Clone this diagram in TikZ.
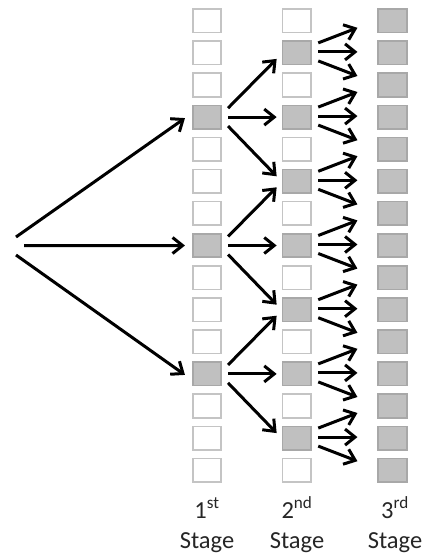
\documentclass[tikz,border=0pt]{standalone}
\usepackage{fontspec}
\setmainfont{Carlito}
\usetikzlibrary{arrows.meta}
\definecolor{boxgray}{HTML}{C0C0C0}
\definecolor{boxedge}{HTML}{A8A8A8}
\definecolor{whiteedge}{HTML}{C4C4C4}
\tikzset{
  cell/.style={draw=whiteedge, fill=white, line width=1.6pt, minimum width=28.5pt, minimum height=23.5pt, inner sep=0pt},
  graycell/.style={cell, draw=boxedge, fill=boxgray},
  arr/.style={line width=3pt, -{Straight Barb[length=10pt,width=16pt]}},
  lab/.style={font=\fontsize{24.5pt}{30pt}\selectfont, text=black!85, anchor=base, inner sep=0pt}
}
\begin{document}
\begin{tikzpicture}[x=1pt,y=-1pt]
\useasboundingbox (0,0) rectangle (427,554);
% columns
\foreach \i in {0,...,14}{
  \pgfmathsetmacro{\yy}{20.8+32.1*\i}
  \ifnum\i=3 \node[graycell] (c1-\i) at (207,\yy) {};
  \else\ifnum\i=7 \node[graycell] (c1-\i) at (207,\yy) {};
  \else\ifnum\i=11 \node[graycell] (c1-\i) at (207,\yy) {};
  \else \node[cell] (c1-\i) at (207,\yy) {};
  \fi\fi\fi
  \ifodd\i \node[graycell] (c2-\i) at (296.7,\yy) {};
  \else \node[cell] (c2-\i) at (296.7,\yy) {};
  \fi
  \node[graycell] (c3-\i) at (392.5,\yy) {};
}
% source points
\coordinate (s1) at (16,237);
\coordinate (s2) at (24,245.5);
\coordinate (s3) at (16,255);
\draw[arr] (s1) -- ([shift={(-7,1)}]c1-3.west);
\draw[arr] (s2) -- ([xshift=-7pt]c1-7.west);
\draw[arr] (s3) -- ([shift={(-7,1)}]c1-11.west);
% stage 1 -> stage 2
\foreach \i/\u/\d in {3/1/5, 7/5/9, 11/9/13}{
  \draw[arr] ([shift={(6,-9)}]c1-\i.east) -- ([shift={(-5,6)}]c2-\u.west);
  \draw[arr] ([xshift=6pt]c1-\i.east) -- ([xshift=-5pt]c2-\i.west);
  \draw[arr] ([shift={(6,9)}]c1-\i.east) -- ([shift={(-5,-5)}]c2-\d.west);
}
% stage 2 -> stage 3
\foreach \i in {1,3,...,13}{
  \pgfmathtruncatemacro{\u}{\i-1}
  \pgfmathtruncatemacro{\d}{\i+1}
  \draw[arr] ([shift={(6.5,-10)}]c2-\i.east) -- ([shift={(-20,7)}]c3-\u.west);
  \draw[arr] ([shift={(6.5,-1)}]c2-\i.east) -- ([shift={(-20,-1)}]c3-\i.west);
  \draw[arr] ([shift={(6.5,8)}]c2-\i.east) -- ([shift={(-20,-9)}]c3-\d.west);
}
% labels
\node[lab] (l1a) at (207,518) {1\textsuperscript{st}};
\node[lab] (l1b) at (207,548) {Stage};
\node[lab] (l2a) at (297,518) {2\textsuperscript{nd}};
\node[lab] (l2b) at (297,548) {Stage};
\node[lab] (l3a) at (395,518) {3\textsuperscript{rd}};
\node[lab] (l3b) at (395,548) {Stage};
\end{tikzpicture}
\end{document}
